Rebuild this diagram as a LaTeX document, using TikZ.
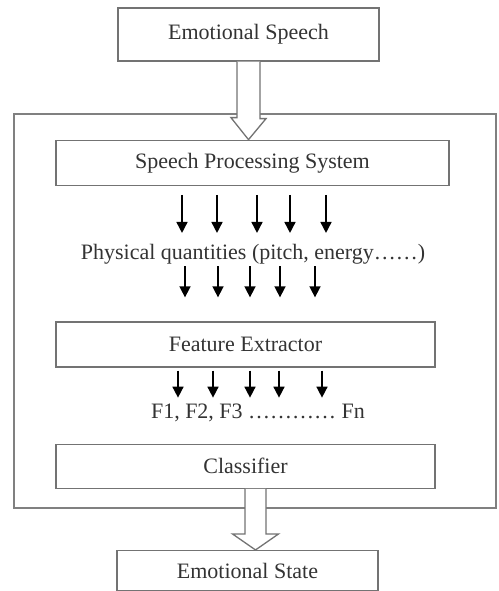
\documentclass[tikz,border=0pt]{standalone}
\usepackage{fontspec}
\setmainfont{Liberation Serif}
\usetikzlibrary{positioning,calc,arrows.meta}

\begin{document}
\begin{tikzpicture}[x=1pt, y=-1pt, line join=miter,
    every node/.style={align=center, inner sep=2pt, text=black!80, font=\fontsize{22}{26}\selectfont},
    box/.style={draw=black!55, line width=1.3pt, inner sep=0pt, minimum height=45pt},
    frame/.style={draw=black!50, line width=1.3pt},
    flow/.style={-{Triangle[length=11pt, width=11pt]}, line width=1.6pt, black},
    hollow/.style={draw=black!55, line width=1.3pt, fill=white}]
    \useasboundingbox (0,0) rectangle (498,591);

    % outer system frame
    \draw[frame] (14,114) rectangle (496,508);

    % input and output
    \node (speech) [box, minimum width=261pt, minimum height=53pt] at (248.5,34.5) {Emotional Speech};
    \node (sps) [box, minimum width=393pt, below=78pt of speech, xshift=4pt] {Speech Processing System};
    \node (phys) [below=56pt of sps, xshift=0.5pt] {Physical quantities (pitch, energy\dots\dots)};
    \node (fe) [box, minimum width=379pt] at (245.5,344.5) {Feature Extractor};
    \node (feat) [below=34pt of fe, xshift=12.5pt] {F1, F2, F3 \dots\dots\dots\dots\ Fn};
    \node (cls) [box, minimum width=379pt, minimum height=44pt, below=76pt of fe] {Classifier};
    \node (state) [box, minimum width=261pt, minimum height=40pt, below=61pt of cls, xshift=2pt] {Emotional State};

    % small arrows
    \foreach \x in {182,217,257,290,326}
        \draw[flow, shorten <=9pt, shorten >=9pt] (sps.south -| \x,0) -- (phys.north -| \x,0);
    \foreach \x in {185,218,250,280,315}
        \draw[flow, shorten >=24pt] (phys.south -| \x,0) -- (fe.north -| \x,0);
    \foreach \x in {178,213,250,279,322}
        \draw[flow, shorten <=3pt, shorten >=4pt] (fe.south -| \x,0) -- (feat.north -| \x,0);

    % hollow arrows
    \draw[hollow] ($(speech.south)+(-11.5,0)$) -- ++(0,56) -- ++(-6,0) -- (speech.south |- sps.north)
        -- ++(17.5,-21) -- ++(-6,0) -- ($(speech.south)+(11.5,0)$);
    \coordinate (tip) at ([xshift=8pt]state.north);
    \draw[hollow] ($(cls.south -| tip)+(-10.5,0)$) -- ++(0,45) -- ++(-12.5,0) -- (tip)
        -- ++(23,-16) -- ++(-12.5,0) -- ($(cls.south -| tip)+(10.5,0)$);
\end{tikzpicture}
\end{document}
